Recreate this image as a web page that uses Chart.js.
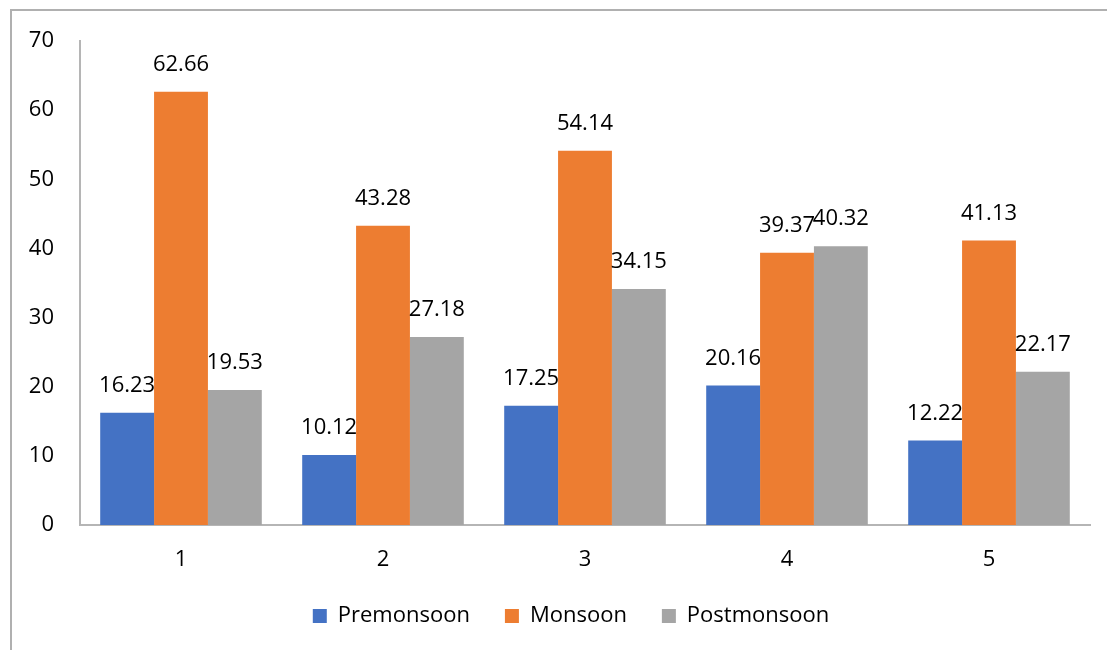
<!DOCTYPE html>
<html>
<head>
<meta charset="utf-8">
<script src="https://cdn.jsdelivr.net/npm/chart.js@4.4.1/dist/chart.umd.min.js"></script>
<style>
  body { margin: 0; background: #fff; }
  #marco { position: absolute; left: 10px; top: 9px; width: 1110px; height: 660px;
           border-top: 2px solid #b0b0b0; border-left: 2px solid #b0b0b0; }
  #myChart { position: absolute; left: 0; top: 0; }
</style>
</head>
<body>
<div id="marco"></div>
<canvas id="myChart" width="1107" height="650"></canvas>
<script>
const categorias = ["1", "2", "3", "4", "5"];
const premonsoon = [16.23, 10.12, 17.25, 20.16, 12.22];
const monsoon = [62.66, 43.28, 54.14, 39.37, 41.13];
const postmonsoon = [19.53, 27.18, 34.15, 40.32, 22.17];
const ticksY = [0, 10, 20, 30, 40, 50, 60, 70];

const fuente = "'Open Sans', sans-serif";

// etiquetas de valor encima de cada barra
const etiquetas = {
    id: "etiquetas",
    afterDatasetsDraw(chart) {
        const ctx = chart.ctx;
        ctx.save();
        ctx.font = "22px " + fuente;
        ctx.fillStyle = "#000";
        ctx.textAlign = "center";
        ctx.textBaseline = "middle";
        chart.data.datasets.forEach((ds, i) => {
            chart.getDatasetMeta(i).data.forEach((bar, j) => {
                ctx.fillText(ds.data[j].toFixed(2), bar.x, bar.y - 27);
            });
        });
        ctx.restore();
    },
};

// la leyenda del original esta algo corrida a la derecha
const moverLeyenda = {
    id: "moverLeyenda",
    beforeDraw(chart) {
        if (!chart.legend) return;
        chart.legend.left = 52;
        chart.legend.right = 1090;
    },
};

const myChart = new Chart("myChart", {
    type: "bar",
    data: {
        labels: categorias,
        datasets: [
            { label: "Premonsoon", data: premonsoon, backgroundColor: "#4472C4" },
            { label: "Monsoon", data: monsoon, backgroundColor: "#ED7D31" },
            { label: "Postmonsoon", data: postmonsoon, backgroundColor: "#A5A5A5" },
        ],
    },
    options: {
        responsive: false,
        animation: false,
        layout: { padding: { top: 41, right: 17, left: 0, bottom: 13 } },
        datasets: { bar: { barPercentage: 1, categoryPercentage: 0.8 } },
        plugins: {
            tooltip: { enabled: false },
            legend: {
                position: "bottom",
                labels: {
                    font: { family: fuente, size: 22 },
                    color: "#000",
                    boxWidth: 14,
                    boxHeight: 14,
                    padding: 35,
                },
            },
        },
        scales: {
            x: {
                grid: { display: false, drawTicks: false },
                border: { color: "#b5b5b5", width: 2 },
                ticks: { font: { family: fuente, size: 22 }, color: "#000", padding: 22 },
                afterFit: (s) => { s.height = 45; },
            },
            y: {
                min: 0,
                max: 70,
                afterBuildTicks: (s) => { s.ticks = ticksY.map((v) => ({ value: v })); },
                grid: { display: false, drawTicks: false },
                border: { color: "#b5b5b5", width: 2 },
                ticks: { font: { family: fuente, size: 22 }, color: "#000", padding: 26 },
                afterFit: (s) => { s.width = 80; },
            },
        },
    },
    plugins: [etiquetas, moverLeyenda],
});
</script>
</body>
</html>
